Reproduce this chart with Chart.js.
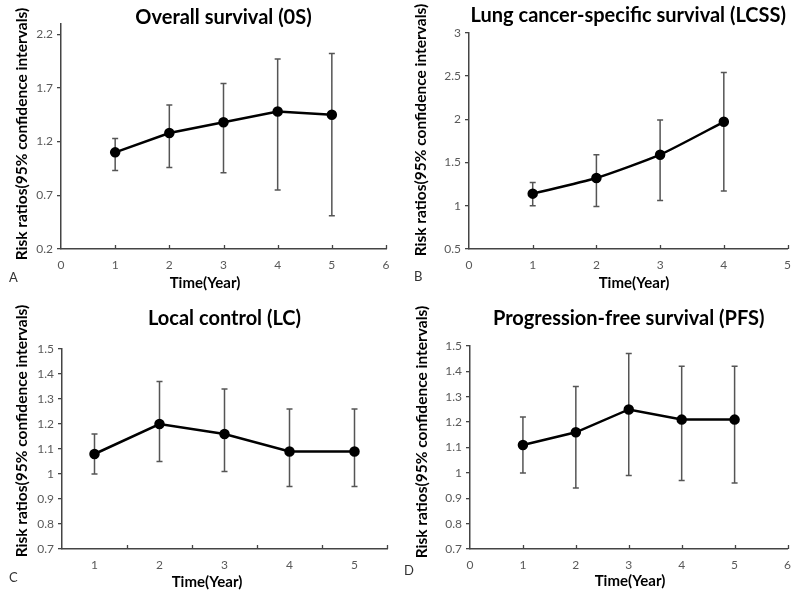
<!DOCTYPE html>
<html>
<head>
<meta charset="utf-8">
<script src="https://cdn.jsdelivr.net/npm/chart.js@4.4.1/dist/chart.umd.min.js"></script>
<style>
  body { margin: 0; background: #fff; width: 800px; height: 595px; position: relative; overflow: hidden; }
  .panel { position: absolute; }
  .letter { position: absolute; font: 13px Lato, sans-serif; color: #333; }
  .ytitle, .xtitle {
    position: absolute; white-space: nowrap; color: #000;
  }
  .ytitle {
    font: bold 15.5px Lato, sans-serif;
    transform: translate(-50%, -50%) rotate(-90deg);
  }
  .xtitle {
    font: bold 15px Lato, sans-serif;
    transform: translate(-50%, -50%);
  }
</style>
</head>
<body>
<div class="panel" style="left:0;top:0"><canvas id="chartA" width="400" height="297"></canvas></div>
<div class="panel" style="left:400px;top:0"><canvas id="chartB" width="400" height="297"></canvas></div>
<div class="panel" style="left:0;top:297px"><canvas id="chartC" width="400" height="298"></canvas></div>
<div class="panel" style="left:400px;top:297px"><canvas id="chartD" width="400" height="298"></canvas></div>
<div class="ytitle" style="left:21px;top:134px">Risk ratios(95% confidence intervals)</div>
<div class="ytitle" style="left:420px;top:130px">Risk ratios(95% confidence intervals)</div>
<div class="ytitle" style="left:21px;top:431px">Risk ratios(95% confidence intervals)</div>
<div class="ytitle" style="left:421px;top:432px">Risk ratios(95% confidence intervals)</div>
<div class="xtitle" style="left:205px;top:282px">Time(Year)</div>
<div class="xtitle" style="left:634px;top:282px">Time(Year)</div>
<div class="xtitle" style="left:207px;top:581px">Time(Year)</div>
<div class="xtitle" style="left:630px;top:580px">Time(Year)</div>
<div class="letter" style="left:9px;top:269px">A</div>
<div class="letter" style="left:414px;top:268px">B</div>
<div class="letter" style="left:9px;top:569px">C</div>
<div class="letter" style="left:404px;top:562px">D</div>
<script>
// years of follow-up
const years = [1, 2, 3, 4, 5];
const lcssYears = [1, 2, 3, 4];

// Overall survival (OS)
const osRR = [1.10, 1.28, 1.38, 1.48, 1.45];
const osLow = [0.93, 0.96, 0.91, 0.75, 0.51];
const osHigh = [1.23, 1.54, 1.74, 1.97, 2.02];

// Lung cancer-specific survival (LCSS)
const lcssRR = [1.14, 1.32, 1.59, 1.97];
const lcssLow = [1.00, 0.99, 1.06, 1.17];
const lcssHigh = [1.27, 1.59, 1.99, 2.54];

// Local control (LC)
const lcRR = [1.08, 1.20, 1.16, 1.09, 1.09];
const lcLow = [1.00, 1.05, 1.01, 0.95, 0.95];
const lcHigh = [1.16, 1.37, 1.34, 1.26, 1.26];

// Progression-free survival (PFS)
const pfsRR = [1.11, 1.16, 1.25, 1.21, 1.21];
const pfsLow = [1.00, 0.94, 0.99, 0.97, 0.96];
const pfsHigh = [1.22, 1.34, 1.47, 1.42, 1.42];

// tick labels
const osTicks = [0.2, 0.7, 1.2, 1.7, 2.2];
const lcssTicks = [0.5, 1, 1.5, 2, 2.5, 3];
const lcTicks = [0.7, 0.8, 0.9, 1, 1.1, 1.2, 1.3, 1.4, 1.5];
const pfsTicks = [0.7, 0.8, 0.9, 1, 1.1, 1.2, 1.3, 1.4, 1.5];
const xTicks6 = [0, 1, 2, 3, 4, 5, 6];
const xTicks5 = [0, 1, 2, 3, 4, 5];

Chart.defaults.font.family = 'Lato, sans-serif';

const axisColor = '#444';
const tickColor = '#595959';

// vertical CI bars with small caps, drawn under the line
const errorBars = {
    id: 'errorBars',
    beforeDatasetsDraw(chart, args, opts) {
        const { ctx, scales: { x, y } } = chart;
        ctx.save();
        ctx.strokeStyle = '#555';
        ctx.lineWidth = 1.5;
        ctx.beginPath();
        opts.xs.forEach((v, i) => {
            const px = x.getPixelForValue(v);
            const top = y.getPixelForValue(opts.high[i]);
            const bot = y.getPixelForValue(opts.low[i]);
            ctx.moveTo(px, top); ctx.lineTo(px, bot);
            ctx.moveTo(px - 3, top); ctx.lineTo(px + 3, top);
            ctx.moveTo(px - 3, bot); ctx.lineTo(px + 3, bot);
        });
        ctx.stroke();
        ctx.restore();
    }
};

// excel style tick marks pointing up into the plot
const insideTicks = {
    id: 'insideTicks',
    afterDraw(chart, args, opts) {
        const { ctx, chartArea, scales: { x } } = chart;
        ctx.save();
        ctx.strokeStyle = axisColor;
        ctx.lineWidth = 1.3;
        ctx.beginPath();
        opts.marks.forEach(v => {
            const px = Math.round(x.getPixelForValue(v)) + 0.5;
            ctx.moveTo(px, chartArea.bottom);
            ctx.lineTo(px, chartArea.bottom - 4);
        });
        ctx.stroke();
        ctx.restore();
    }
};

function makeChart(id, c) {
    new Chart(document.getElementById(id), {
        type: 'line',
        data: {
            datasets: [{
                data: c.xs.map((x, i) => ({ x: x, y: c.rr[i] })),
                borderColor: '#000',
                borderWidth: 2.5,
                pointRadius: 4,
                pointBackgroundColor: '#000',
                pointBorderColor: '#000',
                tension: c.tension || 0
            }]
        },
        options: {
            responsive: false,
            animation: false,
            layout: { padding: { left: 0, right: c.padRight, top: 0, bottom: 0 } },
            plugins: {
                legend: { display: false },
                tooltip: { enabled: false },
                title: {
                    display: true,
                    text: c.title,
                    fullSize: false,
                    color: '#000',
                    font: { size: 20, weight: 'bold', lineHeight: 1 },
                    padding: c.titlePad
                },
                errorBars: { xs: c.xs, low: c.low, high: c.high },
                insideTicks: { marks: c.marks }
            },
            scales: {
                x: {
                    type: 'linear',
                    min: c.xMin,
                    max: c.xMax,
                    afterBuildTicks: s => { s.ticks = c.xTicks.map(v => ({ value: v })); },
                    afterFit: s => { s.height = c.xHeight; },
                    grid: { display: false, drawTicks: false },
                    border: { display: true, color: axisColor, width: 1.5 },
                    ticks: { color: tickColor, font: { size: 12 }, padding: 9, maxRotation: 0 }
                },
                y: {
                    type: 'linear',
                    min: c.yMin,
                    max: c.yMax,
                    afterBuildTicks: s => { s.ticks = c.yTicks.map(v => ({ value: v })); },
                    afterFit: s => { s.width = c.yWidth; },
                    grid: { display: true, drawOnChartArea: false, drawTicks: true, tickLength: 4, color: axisColor, lineWidth: 1.3 },
                    border: { display: true, color: axisColor, width: 1.5 },
                    ticks: { color: tickColor, font: { size: 12 }, padding: 4, callback: v => String(v) }
                }
            }
        },
        plugins: [errorBars, insideTicks]
    });
}

makeChart('chartA', {
    title: 'Overall survival (0S)',
    xs: years, rr: osRR, low: osLow, high: osHigh,
    xMin: 0, xMax: 6, xTicks: xTicks6, marks: xTicks6.slice(1),
    yMin: 0.2, yMax: 2.295, yTicks: osTicks,
    yWidth: 61, xHeight: 48, padRight: 14,
    titlePad: { top: 7.5, bottom: -3.5 }
});

makeChart('chartB', {
    title: 'Lung cancer-specific survival (LCSS)',
    xs: lcssYears, rr: lcssRR, low: lcssLow, high: lcssHigh,
    xMin: 0, xMax: 5, xTicks: xTicks5, marks: xTicks5.slice(1),
    yMin: 0.5, yMax: 3, yTicks: lcssTicks,
    yWidth: 69, xHeight: 48, padRight: 12,
    titlePad: { top: 6, bottom: 6.7 },
    tension: 0.2
});

makeChart('chartC', {
    title: 'Local control (LC)',
    xs: years, rr: lcRR, low: lcLow, high: lcHigh,
    xMin: 0.5, xMax: 5.5, xTicks: years, marks: years.map(v => v + 0.5),
    yMin: 0.7, yMax: 1.5, yTicks: lcTicks,
    yWidth: 62, xHeight: 46, padRight: 13,
    titlePad: { top: 11.5, bottom: 20.5 }
});

makeChart('chartD', {
    title: 'Progression-free survival (PFS)',
    xs: years, rr: pfsRR, low: pfsLow, high: pfsHigh,
    xMin: 0, xMax: 6, xTicks: xTicks6, marks: xTicks6.slice(1),
    yMin: 0.7, yMax: 1.5, yTicks: pfsTicks,
    yWidth: 70, xHeight: 46, padRight: 9,
    titlePad: { top: 11.5, bottom: 17.5 }
});
</script>
</body>
</html>
